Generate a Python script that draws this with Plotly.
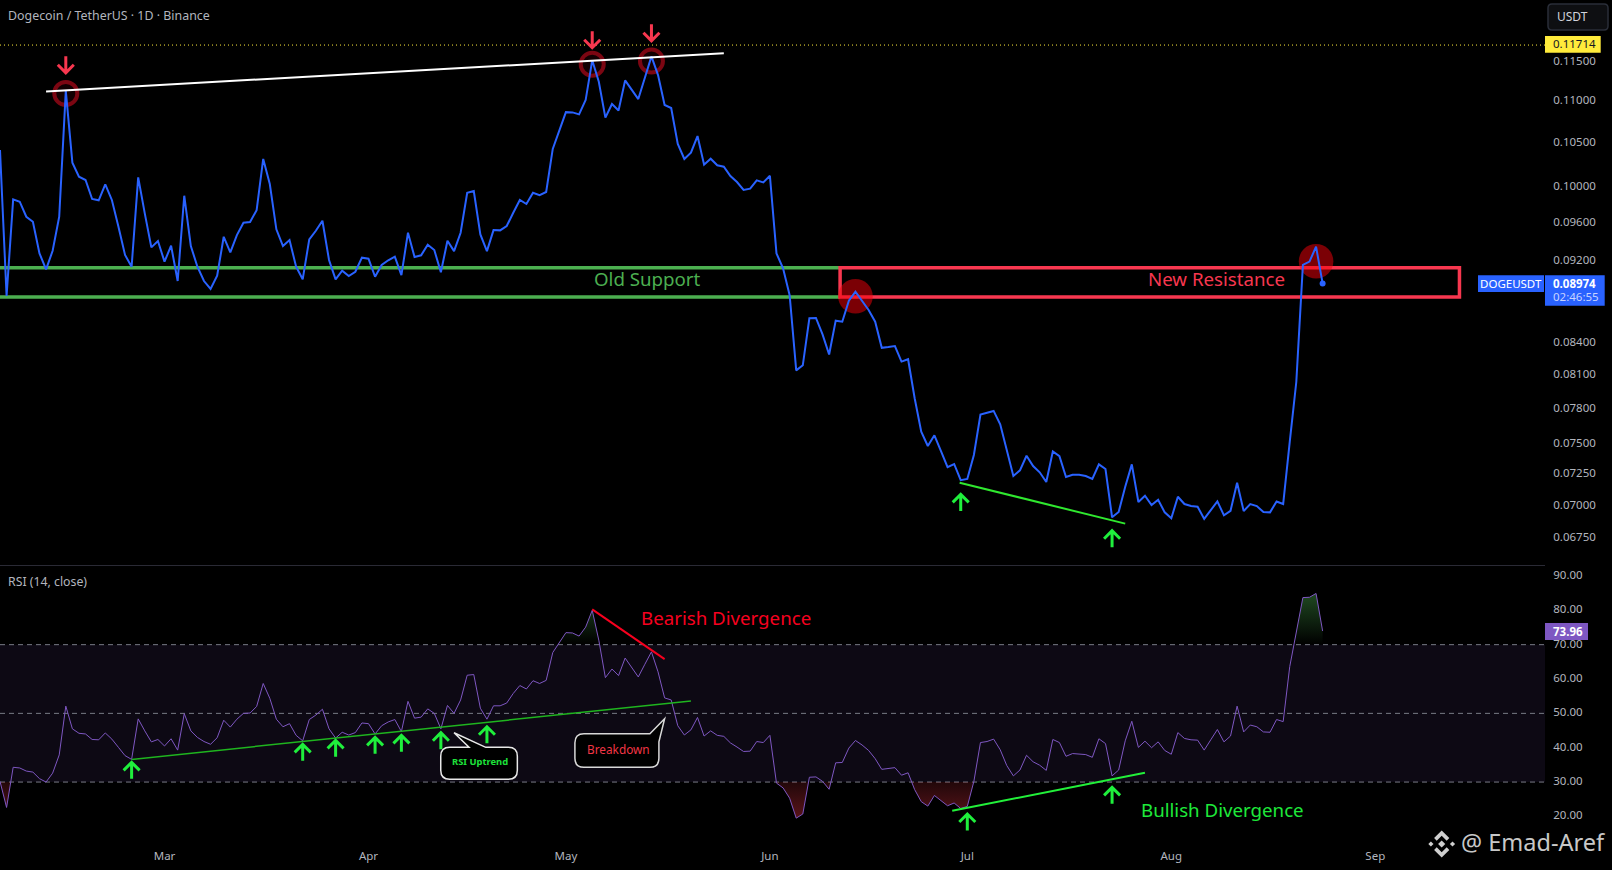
"""Dogecoin / TetherUS daily close with RSI pane, TradingView style."""
import math

import pandas as pd
import plotly.graph_objects as go

FONT = "Noto Sans"
PLOT_W = 1545
PLOT_H = 842

# daily close, one value per day starting 2023-02-04
close_values = [
    .10418, .08850, .09859, .09833, .09669, .09615, .09281, .09117, .09308, .09669,
    .11130, .10271, .10111, .10074, .09863, .09848, .10026, .09852, .09562, .09265,
    .09144, .10104, .09705, .09344, .09410, .09196, .09361, .08999, .09899, .09358,
    .09144, .08999, .08919, .09052, .09455, .09292, .09473, .09605, .09612, .09741,
    .10314, .10029, .09534, .09358, .09421, .09144, .09016, .09428, .09519, .09626,
    .09213, .09016, .09103, .09049, .09093, .09237, .09226, .09042, .09162, .09210,
    .09247, .09059, .09498, .09244, .09261, .09371, .09316, .09087, .09413, .09305,
    .09498, .09932, .09951, .09480, .09305, .09526, .09523, .09569, .09712, .09852,
    .09808, .09932, .09906, .09940, .10430, .10645, .10868, .10865, .10841, .11016,
    .11516, .11244, .10801, .10967, .10889, .11261, .11143, .11028, .11294, .11567,
    .11328, .10955, .10918, .10488, .10314, .10386, .10582, .10248, .10317, .10241,
    .10225, .10119, .10052, .09963, .09977, .10071, .10048, .10122, .09281, .09128,
    .08857, .08144, .08190, .08632, .08635, .08478, .08290, .08609, .08599, .08804,
    .08892, .08804, .08713, .08599, .08352, .08359, .08368, .08224, .08246, .07894,
    .07604, .07484, .07574, .07442, .07310, .07335, .07203, .07213, .07409, .07751,
    .07766, .07783, .07668, .07436, .07237, .07283, .07403, .07318, .07267, .07189,
    .07439, .07400, .07229, .07247, .07247, .07237, .07213, .07332, .07294, .06911,
    .06952, .07151, .07332, .07030, .07079, .07006, .07048, .06949, .06903, .07071,
    .07014, .06998, .06993, .06898, .06965, .07035, .06926, .06961, .07183, .06959,
    .07014, .06998, .06951, .06949, .07034, .07014, .07518, .08041, .09162, .09196,
    .09351, .08974,
]

rsi_values = [
    30.2, 22.6, 34.3, 34.1, 33.2, 32.9, 31.0, 30.0, 32.6, 37.9,
    52.1, 45.5, 44.2, 44.0, 42.4, 42.3, 44.3, 42.5, 40.1, 37.7,
    36.6, 48.4, 44.9, 41.7, 42.4, 40.5, 42.6, 39.3, 49.9, 44.9,
    43.0, 41.8, 41.0, 42.9, 48.0, 46.0, 48.3, 50.0, 50.1, 52.0,
    58.7, 54.4, 48.3, 46.1, 47.0, 43.6, 42.0, 48.2, 49.5, 51.2,
    45.5, 42.8, 44.5, 43.7, 44.4, 47.2, 47.0, 44.0, 46.4, 47.5,
    48.2, 44.7, 53.5, 48.6, 48.9, 51.3, 50.0, 45.5, 52.3, 50.0,
    53.9, 61.1, 61.3, 51.5, 48.3, 52.2, 52.2, 53.0, 55.8, 58.1,
    57.1, 59.5, 58.7, 59.6, 67.7, 70.8, 73.5, 73.4, 72.5, 75.1,
    80.0, 71.3, 60.4, 62.9, 61.0, 66.1, 63.3, 60.6, 64.3, 67.9,
    62.1, 54.5, 53.9, 46.4, 43.7, 45.2, 48.8, 43.4, 44.9, 43.6,
    43.3, 41.4, 40.2, 38.9, 39.0, 41.8, 41.5, 43.6, 29.7, 28.3,
    25.3, 19.5, 20.7, 31.4, 31.5, 30.2, 27.9, 35.6, 35.7, 39.9,
    42.1, 40.8, 39.2, 36.8, 33.7, 33.9, 34.2, 32.0, 32.7, 27.8,
    24.3, 23.0, 26.1, 24.6, 23.1, 23.9, 22.3, 22.9, 30.2, 41.5,
    41.8, 42.5, 39.4, 34.8, 31.8, 33.5, 37.8, 35.9, 34.9, 33.4,
    42.4, 41.5, 37.5, 38.3, 38.2, 38.0, 37.2, 42.6, 41.2, 31.8,
    33.5, 42.0, 47.7, 40.1, 41.9, 40.0, 41.7, 39.2, 38.1, 44.4,
    42.7, 42.3, 42.2, 39.3, 42.3, 45.3, 41.7, 43.4, 52.1, 44.6,
    46.6, 46.1, 44.6, 44.5, 48.2, 47.6, 63.6, 73.7, 83.7, 83.8,
    84.9, 73.96,
]

dates = pd.date_range("2023-02-04", periods=len(close_values), freq="D")

price_ticks = [0.115, 0.11, 0.105, 0.10, 0.096, 0.092, 0.084, 0.081, 0.078, 0.075, 0.0725, 0.07, 0.0675]
rsi_ticks = [20, 30, 40, 50, 60, 70, 80, 90]
month_ticks = ["2023-03-01", "2023-04-01", "2023-05-01", "2023-06-01", "2023-07-01", "2023-08-01", "2023-09-01"]
month_labels = ["Mar", "Apr", "May", "Jun", "Jul", "Aug", "Sep"]

x_range = ["2023-02-04", "2023-09-26 19:00"]
price_range = [0.06552, 0.12319]
rsi_range = [12.55, 92.9]

high_price = 0.11714
support_top = 0.09134
support_bottom = 0.08840
zone_split = "2023-06-11 16:00"
zone_end = "2023-09-13 19:00"

# (x0, y0, x1, y1, colour, width)
price_lines = [
    ("2023-02-11", 0.11123, "2023-05-25", 0.11606, "#ffffff", 2),
    ("2023-06-29 20:00", 0.07183, "2023-07-25", 0.06862, "#2fe82f", 2),
]
rsi_lines = [
    ("2023-02-24", 36.6, "2023-05-20", 53.6, "#1fb51f", 1.5),
    ("2023-05-05", 80.26, "2023-05-16", 65.8, "#f7001e", 2),
    ("2023-06-28 17:00", 21.66, "2023-07-28", 32.7, "#22f03a", 2),
]

red_arrows = [("2023-02-14", 0.11357), ("2023-05-05", 0.11679), ("2023-05-14", 0.11770)]
green_price_arrows = [("2023-06-30", 0.07090), ("2023-07-23", 0.06808)]
green_rsi_arrows = [
    ("2023-02-24", 35.74), ("2023-03-22", 40.98), ("2023-03-27", 42.14), ("2023-04-02", 43.02),
    ("2023-04-06", 43.6), ("2023-04-12", 44.36), ("2023-04-19", 46.1), ("2023-07-01", 20.7),
    ("2023-07-23", 28.47),
]
ring_dates = ["2023-02-14", "2023-05-05", "2023-05-14"]
ring_prices = [0.11098, 0.11465, 0.11507]
disc_dates = ["2023-06-14", "2023-08-23"]
disc_prices = [0.08847, 0.09200]


def px(x):
    return x / PLOT_W


def py(y):
    return 1 - y / PLOT_H


def text(label, x, y, size, color, xanchor="center", **kwargs):
    return dict(text=label, x=px(x), y=py(y), xref="paper", yref="paper", showarrow=False,
                xanchor=xanchor, yanchor="middle", font=dict(family=FONT, size=size, color=color),
                **kwargs)


def rect(x0, y0, x1, y1, fill, line_color=None):
    line = dict(color=line_color, width=1) if line_color else dict(width=0)
    return dict(type="rect", xref="paper", yref="paper", x0=px(x0), x1=px(x1), y0=py(y0), y1=py(y1),
                fillcolor=fill, line=line)


def arrow(x, y, yref, color, up):
    # pixel sized arrow with its tip on (x, y)
    d = -1 if up else 1
    path = f"M 0 {16.5 * d} L 0 0 M -8 {8 * d} L 0 0 L 8 {8 * d}"
    return dict(type="path", xref="x", yref=yref, xsizemode="pixel", ysizemode="pixel", xanchor=x,
                yanchor=y, path=path, line=dict(color=color, width=3))


def logo_path(points):
    return "M " + " L ".join(f"{px(x)} {py(y)}" for x, y in points) + " Z"


def logo_shapes(cx, cy):
    shapes = []
    for dx, r in [(0, 3.6), (-10.8, 2.6), (10.8, 2.6)]:
        pts = [(cx + dx, cy - r), (cx + dx + r, cy), (cx + dx, cy + r), (cx + dx - r, cy)]
        shapes.append(pts)
    for s in (-1, 1):
        shapes.append([(cx, cy + s * 13.5), (cx + 7.6, cy + s * 5.9), (cx + 5, cy + s * 3.3),
                       (cx, cy + s * 8.3), (cx - 5, cy + s * 3.3), (cx - 7.6, cy + s * 5.9)])
    return [dict(type="path", xref="paper", yref="paper", path=logo_path(p), fillcolor="#cfcfcf",
                 line=dict(width=0)) for p in shapes]


def zone_polygon(level, above):
    # closed areas where the RSI is beyond a level, cut at the crossings
    xs, ys = [], []
    beyond = (lambda v: v > level) if above else (lambda v: v < level)
    inside = False
    for i, v in enumerate(rsi_values):
        if beyond(v) and not inside:
            if i > 0:
                prev = rsi_values[i - 1]
                xs.append(dates[i - 1] + (dates[i] - dates[i - 1]) * ((level - prev) / (v - prev)))
            else:
                xs.append(dates[0])
            ys.append(level)
            inside = True
        elif not beyond(v) and inside:
            prev = rsi_values[i - 1]
            xs.append(dates[i - 1] + (dates[i] - dates[i - 1]) * ((level - prev) / (v - prev)))
            ys.append(level)
            xs.append(None)
            ys.append(None)
            inside = False
        if beyond(v):
            xs.append(dates[i])
            ys.append(v)
    if inside:
        xs.append(dates[-1])
        ys.append(level)
    return xs, ys


fig = go.Figure()

up_x, up_y = zone_polygon(70, True)
fig.add_trace(go.Scatter(
    x=up_x, y=up_y, yaxis="y2", mode="none", fill="toself",
    fillgradient=dict(type="vertical", start=70, stop=85,
                      colorscale=[[0, "rgba(76,175,80,0)"], [1, "rgba(76,175,80,0.42)"]]),
))
down_x, down_y = zone_polygon(30, False)
fig.add_trace(go.Scatter(
    x=down_x, y=down_y, yaxis="y2", mode="none", fill="toself",
    fillgradient=dict(type="vertical", start=30, stop=19,
                      colorscale=[[0, "rgba(242,54,69,0.14)"], [1, "rgba(242,54,69,0.38)"]]),
))
fig.add_trace(go.Scatter(x=dates, y=rsi_values, yaxis="y2", mode="lines",
                         line=dict(color="#7e57c2", width=1)))
fig.add_trace(go.Scatter(x=disc_dates, y=disc_prices, mode="markers",
                         marker=dict(color="rgba(245,0,10,0.5)", size=34.6, line=dict(width=0))))
fig.add_trace(go.Scatter(x=ring_dates, y=ring_prices, mode="markers",
                         marker=dict(color="rgba(150,0,20,0.12)", size=23,
                                     line=dict(color="#7b0612", width=4))))
fig.add_trace(go.Scatter(x=dates, y=close_values, mode="lines",
                         line=dict(color="#2962ff", width=2)))
fig.add_trace(go.Scatter(x=dates[-1:], y=close_values[-1:], mode="markers",
                         marker=dict(color="#2962ff", size=6)))

shapes = [
    # pane separator
    rect(0, 565, PLOT_W, 566, "#2a2a35"),
    dict(type="rect", xref="paper", yref="y2", x0=0, x1=1, y0=30, y1=70,
         fillcolor="rgba(126,87,194,0.1)", line=dict(width=0), layer="below"),
    dict(type="line", xref="paper", yref="y", x0=0, x1=1, y0=high_price, y1=high_price,
         line=dict(color="#ffeb3b", width=1, dash="1px,3px"), layer="below"),
]
for level in [70, 50, 30]:
    shapes.append(dict(type="line", xref="paper", yref="y2", x0=0, x1=1, y0=level, y1=level,
                       line=dict(color="#787b86", width=1, dash="5px,4px"), layer="below"))
for level in [support_top, support_bottom]:
    shapes.append(dict(type="line", xref="x", yref="y", x0=x_range[0], x1=zone_split, y0=level, y1=level,
                       line=dict(color="#4caf50", width=3.5), layer="below"))
shapes.append(dict(type="rect", xref="x", yref="y", x0=zone_split, x1=zone_end,
                   y0=support_bottom, y1=support_top, line=dict(color="#f7374f", width=3.5), layer="below"))
for x0, y0, x1, y1, color, width in price_lines:
    shapes.append(dict(type="line", xref="x", yref="y", x0=x0, x1=x1, y0=y0, y1=y1,
                       line=dict(color=color, width=width)))
for x0, y0, x1, y1, color, width in rsi_lines:
    shapes.append(dict(type="line", xref="x", yref="y2", x0=x0, x1=x1, y0=y0, y1=y1,
                       line=dict(color=color, width=width)))
for x, y in red_arrows:
    shapes.append(arrow(x, y, "y", "#f7374f", False))
for x, y in green_price_arrows:
    shapes.append(arrow(x, y, "y", "#1fef3c", True))
for x, y in green_rsi_arrows:
    shapes.append(arrow(x, y, "y2", "#1fef3c", True))

# callouts, tip anchored on the RSI pane
shapes.append(dict(type="path", xref="x", yref="y2", xsizemode="pixel", ysizemode="pixel",
                   xanchor="2023-04-14", yanchor=44.36, fillcolor="#000000",
                   line=dict(color="#e8e8e8", width=1.5),
                   path="M 15 -14.6 L 0 0 L 31.7 -14.6 L 54.3 -14.6 Q 63.3 -14.6 63.3 -23.6 L 63.3 -37.6 "
                        "Q 63.3 -46.6 54.3 -46.6 L -4.3 -46.6 Q -13.3 -46.6 -13.3 -37.6 L -13.3 -23.6 "
                        "Q -13.3 -14.6 -4.3 -14.6 Z"))
shapes.append(dict(type="path", xref="x", yref="y2", xsizemode="pixel", ysizemode="pixel",
                   xanchor="2023-05-16", yanchor=48.43, fillcolor="#000000",
                   line=dict(color="#d8d8d8", width=1.5),
                   path="M -14.7 -15 L 0 0 L -5.7 -23 L -5.7 -39.6 Q -5.7 -48.6 -14.7 -48.6 L -80.7 -48.6 "
                        "Q -89.7 -48.6 -89.7 -39.6 L -89.7 -24 Q -89.7 -15 -80.7 -15 Z"))

# price scale tags
shapes += [
    dict(type="path", xref="paper", yref="paper", fillcolor="#0e0f12", line=dict(color="#2a2e39", width=1.5),
         path=f"M {px(1552)} {py(4)} L {px(1604)} {py(4)} Q {px(1608)} {py(4)} {px(1608)} {py(8)} "
              f"L {px(1608)} {py(26)} Q {px(1608)} {py(30)} {px(1604)} {py(30)} L {px(1552)} {py(30)} "
              f"Q {px(1548)} {py(30)} {px(1548)} {py(26)} L {px(1548)} {py(8)} Q {px(1548)} {py(4)} {px(1552)} {py(4)} Z"),
    rect(1545, 36, 1600.7, 52.7, "#ffeb3b"),
    rect(1478, 275.3, 1544, 292, "#2962ff"),
    rect(1545, 275.3, 1604.7, 305.7, "#2962ff"),
    rect(1545, 623, 1588, 640, "#7e57c2"),
]
shapes += logo_shapes(1441.7, 844)

annotations = [
    text("Dogecoin / TetherUS · 1D · Binance", 6, 16, 12.4, "#b2b5be", "left"),
    text("RSI (14, close)", 6, 581.5, 12.3, "#b2b5be", "left"),
    text("USDT", 1555, 17, 12, "#d1d4dc", "left"),
    text("0.11714", 1551, 44, 11.5, "#131722", "left"),
    text("DOGEUSDT", 1511, 283, 11.5, "#ffffff"),
    text("<b>0.08974</b>", 1551, 283, 11.5, "#ffffff", "left"),
    text("02:46:55", 1551, 297, 11.5, "#c8d4ff", "left"),
    text("<b>73.96</b>", 1551, 631, 11.5, "#ffffff", "left"),
    text("Old Support", 647.7, 278, 18.7, "#4caf50"),
    text("New Resistance", 1216, 278, 18.7, "#f7374f"),
    text("Bearish Divergence", 726, 617.3, 18.7, "#f7001f"),
    text("Bullish Divergence", 1222, 809, 18.7, "#1ee93a"),
    text("<b>RSI Uptrend</b>", 480, 761.5, 9.4, "#1de33a"),
    text("Breakdown", 618, 749, 11.8, "#f23645"),
    text("@ Emad-Aref", 1533, 842, 23.5, "#c8c8c8"),
]

tick_font = dict(family=FONT, size=11.5, color="#b2b5be")
fig.update_layout(
    width=1612,
    height=870,
    margin=dict(l=0, r=1612 - PLOT_W, t=0, b=870 - PLOT_H),
    paper_bgcolor="#000000",
    plot_bgcolor="#000000",
    showlegend=False,
    hovermode=False,
    xaxis=dict(type="date", range=x_range, anchor="y2", tickmode="array", tickvals=month_ticks,
               ticktext=month_labels, showgrid=False, zeroline=False, showline=False, ticks="outside",
               ticklen=3, tickcolor="#000000", tickfont=tick_font),
    yaxis=dict(type="log", domain=[1 - 565 / PLOT_H, 1], side="right",
               range=[math.log10(price_range[0]), math.log10(price_range[1])], tickmode="array",
               tickvals=price_ticks, ticktext=[f"{v:.5f}" for v in price_ticks], showgrid=False,
               zeroline=False, showline=False, ticks="outside", ticklen=5, tickcolor="#000000",
               ticklabelshift=-1, tickfont=tick_font),
    yaxis2=dict(domain=[0, 1 - 566 / PLOT_H], side="right", anchor="x", range=rsi_range, tickmode="array",
                tickvals=rsi_ticks, ticktext=[f"{v:.2f}" for v in rsi_ticks], showgrid=False,
                zeroline=False, showline=False, ticks="outside", ticklen=5, tickcolor="#000000",
                ticklabelshift=-1, tickfont=tick_font),
    shapes=shapes,
    annotations=annotations,
)

fig.write_html("out.html", config={"displayModeBar": False},
               post_script="document.body.style.margin = '0';")
